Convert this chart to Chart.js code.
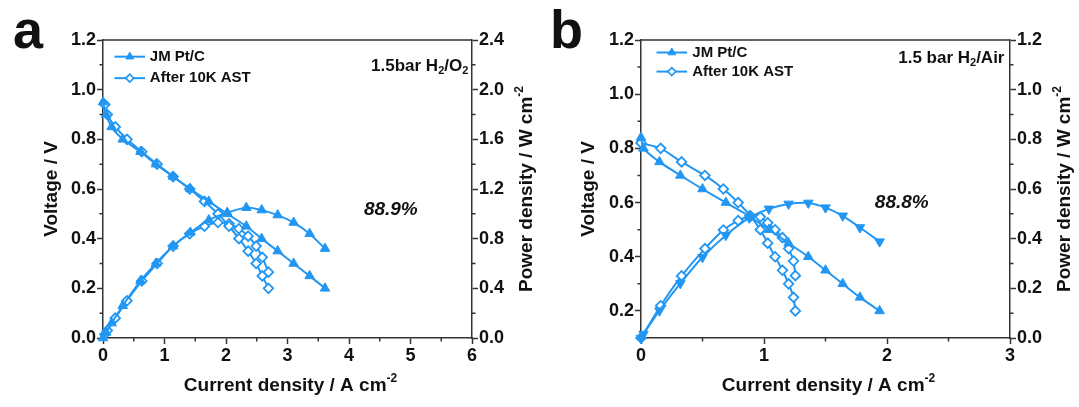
<!DOCTYPE html>
<html lang="en">
<head>
<meta charset="UTF-8">
<title>Fuel cell polarization curves</title>
<script src="https://cdn.jsdelivr.net/npm/chart.js@4.4.1/dist/chart.umd.min.js"></script>
<style>
  body { margin: 0; background: #fff; }
  #wrap { position: relative; width: 1079px; height: 407px; }
  .panel { position: absolute; top: 0; }
  #panelA { left: 0; }
  #panelB { left: 540px; }
</style>
</head>
<body>
<div id="wrap">
  <div class="panel" id="panelA"><canvas id="chartA" width="540" height="407"></canvas></div>
  <div class="panel" id="panelB"><canvas id="chartB" width="539" height="407"></canvas></div>
</div>

<script>
// ---- data: panel a (1.5 bar H2/O2) ----
const seriesNames = ['JM Pt/C', 'After 10K AST'];

const aCurrentJM  = [0, 0.05, 0.14, 0.32, 0.61, 0.86, 1.14, 1.42, 1.72, 2.02, 2.33, 2.58, 2.84, 3.10, 3.36, 3.61];
const aVoltageJM  = [0.95, 0.90, 0.85, 0.80, 0.75, 0.70, 0.65, 0.60, 0.55, 0.50, 0.45, 0.40, 0.35, 0.30, 0.25, 0.20];
const aPowerJM    = [0, 0.045, 0.12, 0.26, 0.46, 0.60, 0.74, 0.85, 0.95, 1.01, 1.05, 1.03, 0.99, 0.93, 0.84, 0.72];
const aCurrentAST = [0.03, 0.07, 0.20, 0.39, 0.63, 0.88, 1.14, 1.41, 1.65, 1.87, 2.05, 2.21, 2.36, 2.49, 2.59, 2.69];
const aVoltageAST = [0.94, 0.90, 0.85, 0.80, 0.75, 0.70, 0.65, 0.60, 0.55, 0.50, 0.45, 0.40, 0.35, 0.30, 0.25, 0.20];
const aPowerAST   = [0.03, 0.06, 0.16, 0.30, 0.46, 0.60, 0.74, 0.84, 0.90, 0.93, 0.92, 0.88, 0.82, 0.74, 0.65, 0.53];

const aTicksX = [0, 1, 2, 3, 4, 5, 6];
const aTicksV = [0, 0.2, 0.4, 0.6, 0.8, 1.0, 1.2];
const aTicksP = [0, 0.4, 0.8, 1.2, 1.6, 2.0, 2.4];
const aMinorX = [0.5, 1.5, 2.5, 3.5, 4.5, 5.5];
const aMinorV = [0.1, 0.3, 0.5, 0.7, 0.9, 1.1];
const aMinorP = [0.2, 0.6, 1.0, 1.4, 1.8, 2.2];

// ---- data: panel b (1.5 bar H2/Air) ----
const bCurrentJM  = [0, 0.02, 0.15, 0.32, 0.50, 0.69, 0.88, 1.04, 1.20, 1.36, 1.50, 1.64, 1.78, 1.94];
const bVoltageJM  = [0.84, 0.80, 0.75, 0.70, 0.65, 0.60, 0.55, 0.50, 0.45, 0.40, 0.35, 0.30, 0.25, 0.20];
const bPowerJM    = [0, 0.016, 0.11, 0.22, 0.325, 0.414, 0.484, 0.52, 0.54, 0.544, 0.525, 0.492, 0.445, 0.388];
const bCurrentAST = [0, 0.16, 0.33, 0.52, 0.67, 0.79, 0.89, 0.97, 1.03, 1.09, 1.15, 1.20, 1.24, 1.255];
const bVoltageAST = [0.82, 0.80, 0.75, 0.70, 0.65, 0.60, 0.55, 0.50, 0.45, 0.40, 0.35, 0.30, 0.25, 0.20];
const bPowerAST   = [0, 0.13, 0.25, 0.36, 0.435, 0.473, 0.49, 0.488, 0.464, 0.436, 0.404, 0.36, 0.31, 0.251];

const bTicksX = [0, 1, 2, 3];
const bTicksV = [0.2, 0.4, 0.6, 0.8, 1.0, 1.2];
const bTicksP = [0, 0.2, 0.4, 0.6, 0.8, 1.0, 1.2];
const bMinorX = [0.5, 1.5, 2.5];
const bMinorV = [0.3, 0.5, 0.7, 0.9, 1.1];
const bMinorP = [0.1, 0.3, 0.5, 0.7, 0.9, 1.1];

// ---- styling ----
const FONT = "'Liberation Sans', Arial, sans-serif";
const blue = '#2196F3';
const ink = '#111';
const axisInk = '#333';

function xy(xs, ys) {
  return xs.map((x, i) => ({ x: x, y: ys[i] }));
}

function series(label, xs, ys, axisId, marker) {
  const ds = {
    label: label,
    data: xy(xs, ys),
    yAxisID: axisId,
    borderColor: blue,
    backgroundColor: blue,
    borderWidth: 2,
    tension: 0.2,
    clip: false,
    pointBorderColor: blue,
    pointHoverRadius: 0
  };
  if (marker === 'diamond') {
    ds.pointStyle = 'rectRot';
    ds.pointRadius = 4.8;
    ds.pointBackgroundColor = '#fff';
    ds.pointBorderWidth = 1.8;
  } else {
    ds.pointStyle = 'triangle';
    ds.pointRadius = 5.5;
    ds.pointBackgroundColor = blue;
    ds.pointBorderWidth = 1;
    ds.pointRotation = marker === 'down' ? 180 : 0;
  }
  return ds;
}

function axis(position, min, max, ticks, size, digits) {
  return {
    type: 'linear',
    position: position,
    min: min,
    max: max,
    afterBuildTicks: s => { s.ticks = ticks.map(v => ({ value: v })); },
    afterFit: s => {
      if (position === 'bottom') s.height = size; else s.width = size;
    },
    grid: { display: true, drawOnChartArea: false, drawTicks: true, tickLength: 6, tickWidth: 1.5, tickColor: axisInk },
    border: { display: true, color: axisInk, width: 1.5 },
    ticks: {
      color: ink,
      autoSkip: false,
      maxRotation: 0,
      padding: 1,
      font: { family: FONT, size: 18, weight: 'bold' },
      callback: v => Number(v).toFixed(digits)
    }
  };
}

// text made of runs: [string, shift] with shift 1 = superscript, -1 = subscript
function drawRuns(ctx, runs, x, y, size, align, style) {
  const fontOf = r => style + ' ' + (r[1] ? Math.round(size * 0.62) : size) + 'px ' + FONT;
  const widths = runs.map(r => { ctx.font = fontOf(r); return ctx.measureText(r[0]).width; });
  const total = widths.reduce((a, b) => a + b, 0);
  let cx = align === 'center' ? x - total / 2 : align === 'right' ? x - total : x;
  ctx.textAlign = 'left';
  ctx.textBaseline = 'middle';
  runs.forEach((r, i) => {
    ctx.font = fontOf(r);
    const dy = r[1] > 0 ? -size * 0.38 : r[1] < 0 ? size * 0.28 : 0;
    ctx.fillText(r[0], cx, y + dy);
    cx += widths[i];
  });
}

// box top edge and short minor ticks
const framePlugin = {
  id: 'frame',
  afterDraw(chart, args, o) {
    const { ctx, chartArea: a, scales } = chart;
    ctx.save();
    ctx.strokeStyle = axisInk;
    ctx.lineWidth = 1.5;
    ctx.beginPath();
    ctx.moveTo(a.left, a.top);
    ctx.lineTo(a.right, a.top);
    o.minorX.forEach(v => {
      const p = scales.x.getPixelForValue(v);
      ctx.moveTo(p, a.bottom); ctx.lineTo(p, a.bottom + 3.5);
    });
    o.minorY.forEach(v => {
      const p = scales.y.getPixelForValue(v);
      ctx.moveTo(a.left, p); ctx.lineTo(a.left - 3.5, p);
    });
    o.minorY1.forEach(v => {
      const p = scales.y1.getPixelForValue(v);
      ctx.moveTo(a.right, p); ctx.lineTo(a.right + 3.5, p);
    });
    ctx.stroke();
    ctx.restore();
  }
};

// legend drawn inside the plot box, top left
const legendPlugin = {
  id: 'boxLegend',
  afterDraw(chart, args, o) {
    const { ctx, chartArea: a } = chart;
    const w = a.right - a.left, h = a.bottom - a.top;
    const x0 = a.left + o.lineFrom * w, x1 = a.left + o.lineTo * w, tx = a.left + o.textAt * w;
    ctx.save();
    o.rows.forEach((row, i) => {
      const y = a.top + o.rowY[i] * h;
      ctx.strokeStyle = blue;
      ctx.lineWidth = 2;
      ctx.beginPath(); ctx.moveTo(x0, y); ctx.lineTo(x1, y); ctx.stroke();
      ctx.fillStyle = row.fill;
      ctx.strokeStyle = blue;
      ctx.lineWidth = row.border;
      Chart.helpers.drawPoint(ctx, { pointStyle: row.style, radius: row.radius, rotation: 0, borderWidth: row.border }, (x0 + x1) / 2, y);
      ctx.fillStyle = ink;
      drawRuns(ctx, [[row.text, 0]], tx, y, 15, 'left', 'bold');
    });
    ctx.restore();
  }
};

// axis titles, panel letter, condition label and retention figure
const textPlugin = {
  id: 'texts',
  afterDraw(chart, args, o) {
    const { ctx, chartArea: a, scales } = chart;
    const w = a.right - a.left, h = a.bottom - a.top;
    const midY = (a.top + a.bottom) / 2;
    ctx.save();
    ctx.fillStyle = ink;

    ctx.font = 'bold 54px ' + FONT;
    ctx.textAlign = 'left';
    ctx.textBaseline = 'alphabetic';
    ctx.fillText(o.letter, o.letterX, 48);

    drawRuns(ctx, [['Current density / A cm', 0], ['-2', 1]], (a.left + a.right) / 2 + 3, 386, 19, 'center', 'bold');

    ctx.save();
    ctx.translate(o.leftTitleX, midY);
    ctx.rotate(-Math.PI / 2);
    drawRuns(ctx, [['Voltage / V', 0]], 0, 0, 19, 'center', 'bold');
    ctx.restore();

    ctx.save();
    ctx.translate(o.rightTitleX, midY);
    ctx.rotate(-Math.PI / 2);
    drawRuns(ctx, [['Power density / W cm', 0], ['-2', 1]], 0, 0, 19, 'center', 'bold');
    ctx.restore();

    drawRuns(ctx, o.condition, a.left + o.condX * w, a.top + o.condY * h, 17, 'right', 'bold');

    const px = scales.x.getPixelForValue(o.retention.x);
    const py = scales.y.getPixelForValue(o.retention.y);
    drawRuns(ctx, [[o.retention.text, 0]], px, py, 19, 'center', 'italic bold');
    ctx.restore();
  }
};

function makePanel(id, p) {
  return new Chart(document.getElementById(id), {
    type: 'line',
    data: {
      datasets: [
        series(seriesNames[0], p.curJM, p.volJM, 'y', 'up'),
        series(seriesNames[0], p.curJM, p.powJM, 'y1', p.powMarker),
        series(seriesNames[1], p.curAST, p.volAST, 'y', 'diamond'),
        series(seriesNames[1], p.curAST, p.powAST, 'y1', 'diamond')
      ]
    },
    options: {
      responsive: false,
      animation: false,
      events: [],
      layout: { padding: { top: 40, left: 0, right: 0, bottom: 0 } },
      scales: {
        x: axis('bottom', p.xMin, p.xMax, p.ticksX, 69, 0),
        y: axis('left', p.vMin, p.vMax, p.ticksV, p.leftWidth, 1),
        y1: axis('right', p.pMin, p.pMax, p.ticksP, p.rightWidth, 1)
      },
      plugins: {
        legend: { display: false },
        tooltip: { enabled: false },
        frame: { minorX: p.minorX, minorY: p.minorV, minorY1: p.minorP },
        boxLegend: {
          lineFrom: p.legend.from, lineTo: p.legend.to, textAt: p.legend.text, rowY: p.legend.rows,
          rows: [
            { text: seriesNames[0], style: 'triangle', radius: 4.5, fill: blue, border: 1 },
            { text: seriesNames[1], style: 'rectRot', radius: 4, fill: '#fff', border: 1.6 }
          ]
        },
        texts: p.texts
      }
    },
    plugins: [framePlugin, legendPlugin, textPlugin]
  });
}

makePanel('chartA', {
  curJM: aCurrentJM, volJM: aVoltageJM, powJM: aPowerJM, powMarker: 'up',
  curAST: aCurrentAST, volAST: aVoltageAST, powAST: aPowerAST,
  xMin: 0, xMax: 6, vMin: 0, vMax: 1.2, pMin: 0, pMax: 2.4,
  ticksX: aTicksX, ticksV: aTicksV, ticksP: aTicksP,
  minorX: aMinorX, minorV: aMinorV, minorP: aMinorP,
  leftWidth: 103, rightWidth: 68,
  legend: { from: 0.031, to: 0.114, text: 0.127, rows: [0.056, 0.128] },
  texts: {
    letter: 'a', letterX: 13, leftTitleX: 52, rightTitleX: 527,
    condition: [['1.5bar H', 0], ['2', -1], ['/O', 0], ['2', -1]], condX: 0.99, condY: 0.088,
    retention: { text: '88.9%', x: 4.68, y: 0.516 }
  }
});

makePanel('chartB', {
  curJM: bCurrentJM, volJM: bVoltageJM, powJM: bPowerJM, powMarker: 'down',
  curAST: bCurrentAST, volAST: bVoltageAST, powAST: bPowerAST,
  xMin: 0, xMax: 3, vMin: 0.1, vMax: 1.2, pMin: 0, pMax: 1.2,
  ticksX: bTicksX, ticksV: bTicksV, ticksP: bTicksP,
  minorX: bMinorX, minorV: bMinorV, minorP: bMinorP,
  leftWidth: 101, rightWidth: 69,
  legend: { from: 0.042, to: 0.125, text: 0.139, rows: [0.042, 0.106] },
  texts: {
    letter: 'b', letterX: 10, leftTitleX: 49, rightTitleX: 525,
    condition: [['1.5 bar H', 0], ['2', -1], ['/Air', 0]], condX: 0.985, condY: 0.062,
    retention: { text: '88.8%', x: 2.12, y: 0.60 }
  }
});
</script>
</body>
</html>
